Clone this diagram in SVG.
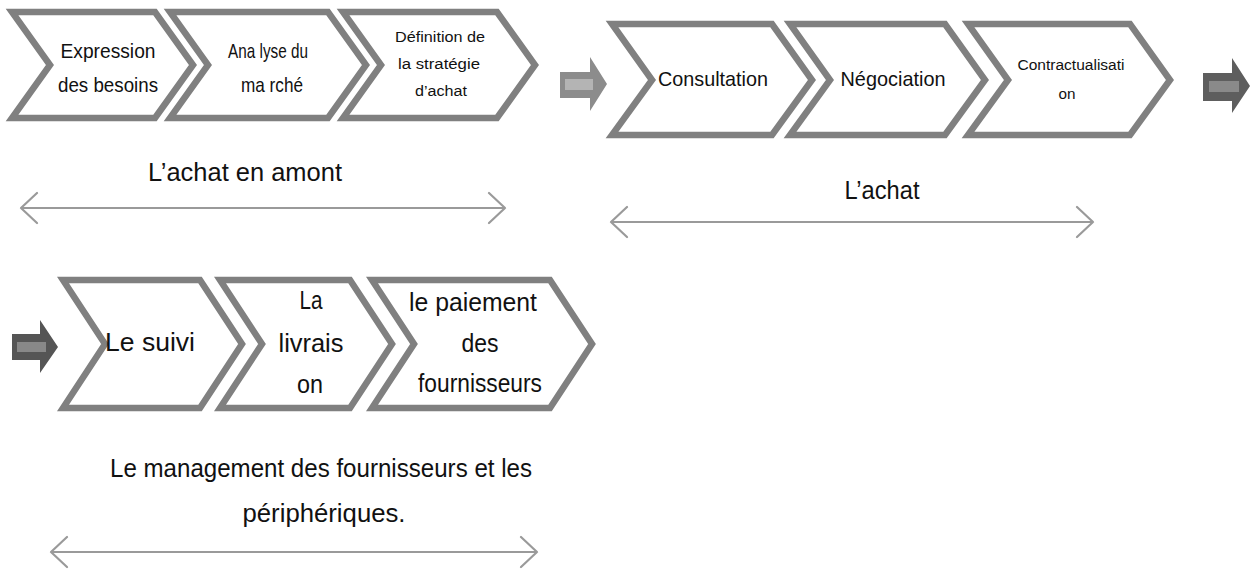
<svg xmlns="http://www.w3.org/2000/svg" width="1259" height="571" viewBox="0 0 1259 571">
  <style>
    .chev { fill: #ffffff; stroke: #808080; stroke-width: 6.5; stroke-linejoin: miter; }
    .t { font-family: "Liberation Sans", Arial, sans-serif; fill: #111111; text-anchor: middle; }
    .s19 { font-size: 21px; }
    .s14 { font-size: 15.5px; }
    .s22 { font-size: 25px; }
    .s24 { font-size: 26px; }
    .span { fill: none; stroke: #9a9a9a; stroke-width: 2.2; stroke-linecap: round; stroke-linejoin: round; }
  </style>

  <!-- Stage 1: upstream purchasing -->
  <g id="n-expression">
    <polygon class="chev" points="12,12 155,12 193,65 155,118 12,118 50,65"/>
    <text class="t s19" x="108" y="58" textLength="95" lengthAdjust="spacingAndGlyphs">Expression</text>
    <text class="t s19" x="108" y="92" textLength="100" lengthAdjust="spacingAndGlyphs">des besoins</text>
  </g>
  <g id="n-analyse">
    <polygon class="chev" points="170,12 328,12 366,65 328,118 170,118 208,65"/>
    <text class="t s19" x="268" y="58" textLength="80" lengthAdjust="spacingAndGlyphs">Ana lyse du</text>
    <text class="t s19" x="272" y="92" textLength="62" lengthAdjust="spacingAndGlyphs">ma rché</text>
  </g>
  <g id="n-definition">
    <polygon class="chev" points="343,12 497,12 535,65 497,118 343,118 381,65"/>
    <text class="t s14" x="440" y="42" textLength="90" lengthAdjust="spacingAndGlyphs">Définition de</text>
    <text class="t s14" x="439" y="69" textLength="82" lengthAdjust="spacingAndGlyphs">la stratégie</text>
    <text class="t s14" x="441" y="96" textLength="52" lengthAdjust="spacingAndGlyphs">d’achat</text>
  </g>

  <!-- Stage 2: purchasing -->
  <g id="n-consultation">
    <polygon class="chev" points="612,24 772,24 812,80 772,135 612,135 652,80"/>
    <text class="t s19" x="713" y="86" textLength="110" lengthAdjust="spacingAndGlyphs">Consultation</text>
  </g>
  <g id="n-negociation">
    <polygon class="chev" points="790,24 945,24 985,80 945,135 790,135 830,80"/>
    <text class="t s19" x="893" y="86" textLength="105" lengthAdjust="spacingAndGlyphs">Négociation</text>
  </g>
  <g id="n-contractualisation">
    <polygon class="chev" points="968,24 1130,24 1170,80 1130,135 968,135 1008,80"/>
    <text class="t s14" x="1071" y="70" textLength="107" lengthAdjust="spacingAndGlyphs">Contractualisati</text>
    <text class="t s14" x="1067" y="99" textLength="17" lengthAdjust="spacingAndGlyphs">on</text>
  </g>

  <!-- Stage 3: supplier management -->
  <g id="n-suivi">
    <polygon class="chev" points="63,280 200,280 242,344 200,408 63,408 105,344"/>
    <text class="t s22" x="150" y="351" textLength="90" lengthAdjust="spacingAndGlyphs">Le suivi</text>
  </g>
  <g id="n-livraison">
    <polygon class="chev" points="220,280 350,280 392,344 350,408 220,408 262,344"/>
    <text class="t s22" x="311" y="309" textLength="23" lengthAdjust="spacingAndGlyphs">La</text>
    <text class="t s22" x="311" y="352" textLength="65" lengthAdjust="spacingAndGlyphs">livrais</text>
    <text class="t s22" x="310" y="393" textLength="26" lengthAdjust="spacingAndGlyphs">on</text>
  </g>
  <g id="n-paiement">
    <polygon class="chev" points="372,280 550,280 592,344 550,408 372,408 414,344"/>
    <text class="t s22" x="473" y="311" textLength="128" lengthAdjust="spacingAndGlyphs">le paiement</text>
    <text class="t s22" x="480" y="352" textLength="37" lengthAdjust="spacingAndGlyphs">des</text>
    <text class="t s22" x="480" y="392" textLength="124" lengthAdjust="spacingAndGlyphs">fournisseurs</text>
  </g>

  <!-- Block arrows between stages -->
  <g id="n-arrow-1">
    <polygon points="560,72 590,72 590,57 607,84 590,111 590,98 560,98" fill="#8c8c8c"/>
    <rect x="565" y="79" width="28" height="11" fill="#b4b4b4"/>
  </g>
  <g id="n-arrow-2">
    <polygon points="1203,73 1232,73 1232,58 1250,86 1232,113 1232,101 1203,101" fill="#5e5e5e"/>
    <rect x="1209" y="81" width="30" height="11" fill="#8a8a8a"/>
  </g>
  <g id="n-arrow-3">
    <polygon points="12,334 40,334 40,320 58,347 40,373 40,360 12,360" fill="#555555"/>
    <rect x="17" y="342" width="29" height="10" fill="#888888"/>
  </g>

  <!-- Phase labels -->
  <g id="n-label-amont">
    <text class="t s24" x="245" y="181" textLength="194" lengthAdjust="spacingAndGlyphs">L’achat en amont</text>
  </g>
  <g id="n-label-achat">
    <text class="t s24" x="882" y="199" textLength="75" lengthAdjust="spacingAndGlyphs">L’achat</text>
  </g>
  <g id="n-label-management">
    <text class="t s24" x="321" y="477" textLength="422" lengthAdjust="spacingAndGlyphs">Le management des fournisseurs et les</text>
    <text class="t s24" x="324" y="522" textLength="163" lengthAdjust="spacingAndGlyphs">périphériques.</text>
  </g>

  <!-- Span connectors (double-headed) -->
  <g id="connectors">
    <path class="span" d="M21,208 H505 M37,193 L21,208 L37,223 M489,193 L505,208 L489,223"/>
    <path class="span" d="M611,222 H1093 M627,207 L611,222 L627,237 M1077,207 L1093,222 L1077,237"/>
    <path class="span" d="M51,552 H537 M67,537 L51,552 L67,567 M521,537 L537,552 L521,567"/>
  </g>
</svg>
